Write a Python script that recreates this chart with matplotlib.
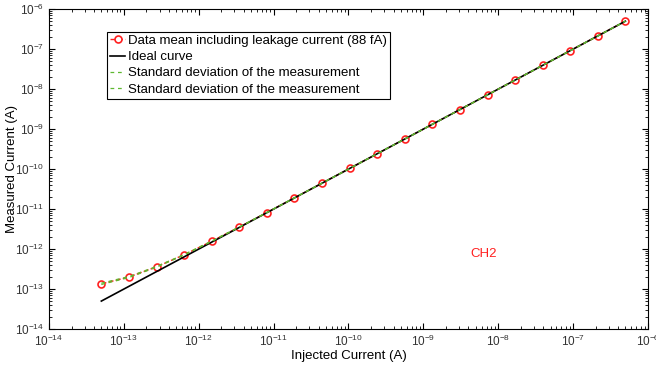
import matplotlib
matplotlib.use("Agg")
import matplotlib.pyplot as plt
from matplotlib.ticker import LogLocator, NullFormatter

plt.rcParams["font.family"] = ["Liberation Sans", "DejaVu Sans"]

# injected current (A)
injected = [5.0e-14, 1.17e-13, 2.73e-13, 6.37e-13, 1.49e-12, 3.48e-12, 8.13e-12,
            1.90e-11, 4.44e-11, 1.04e-10, 2.42e-10, 5.66e-10, 1.32e-9, 3.09e-9,
            7.20e-9, 1.68e-8, 3.93e-8, 9.19e-8, 2.15e-7, 5.0e-7]
# measured mean (A)
measured = [1.35e-13, 2.0e-13, 3.6e-13, 7.2e-13, 1.57e-12, 3.55e-12, 8.2e-12,
            1.91e-11, 4.45e-11, 1.04e-10, 2.42e-10, 5.66e-10, 1.32e-9, 3.09e-9,
            7.20e-9, 1.68e-8, 3.93e-8, 9.19e-8, 2.15e-7, 5.0e-7]
std_upper = [1.40e-13, 2.06e-13, 3.68e-13, 7.3e-13, 1.59e-12, 3.58e-12, 8.26e-12,
             1.92e-11, 4.47e-11, 1.045e-10, 2.43e-10, 5.68e-10, 1.325e-9, 3.10e-9,
             7.22e-9, 1.685e-8, 3.94e-8, 9.21e-8, 2.155e-7, 5.01e-7]
std_lower = [1.30e-13, 1.94e-13, 3.52e-13, 7.1e-13, 1.55e-12, 3.52e-12, 8.14e-12,
             1.90e-11, 4.43e-11, 1.035e-10, 2.41e-10, 5.64e-10, 1.315e-9, 3.08e-9,
             7.18e-9, 1.675e-8, 3.92e-8, 9.17e-8, 2.145e-7, 4.99e-7]

green = "#5fb830"

fig = plt.figure(figsize=(6.56, 3.66), dpi=100)
ax = fig.add_axes([0.0747, 0.101, 0.913, 0.874])

ax.plot(injected, measured, "--o", color="#ff2020", lw=1.0, ms=5,
        mfc="white", mec="#ff2020", mew=1.2,
        label="Data mean including leakage current (88 fA)")
ax.plot(injected, injected, "-", color="black", lw=1.2, label="Ideal curve")
ax.plot(injected, std_upper, "--", color=green, lw=0.9, dashes=(3, 3),
        label="Standard deviation of the measurement")
ax.plot(injected, std_lower, "--", color=green, lw=0.9, dashes=(3, 3),
        label="Standard deviation of the measurement")

ax.text(6.3e-9, 7.6e-13, "CH2", color="#ff2020", fontsize=9.5, ha="center", va="center")

ax.set_xscale("log")
ax.set_yscale("log")
ax.set_xlim(1e-14, 1e-6)
ax.set_ylim(1e-14, 1e-6)
ax.xaxis.set_major_locator(LogLocator(base=10, numticks=20))
ax.yaxis.set_major_locator(LogLocator(base=10, numticks=20))
ax.xaxis.set_minor_locator(LogLocator(base=10, subs=range(2, 10), numticks=100))
ax.yaxis.set_minor_locator(LogLocator(base=10, subs=range(2, 10), numticks=100))
ax.xaxis.set_minor_formatter(NullFormatter())
ax.yaxis.set_minor_formatter(NullFormatter())
ax.tick_params(which="both", direction="in", top=True, right=True,
               labelsize=8.5, labelcolor="#333333")
ax.tick_params(which="major", length=4)
ax.tick_params(which="minor", length=2)

ax.set_xlabel("Injected Current (A)", fontsize=9.5, labelpad=1)
ax.set_ylabel("Measured Current (A)", fontsize=9.5)
ax.yaxis.set_label_coords(-0.052, 0.5)

leg = ax.legend(loc="upper left", bbox_to_anchor=(0.097, 0.93), borderaxespad=0,
                fontsize=9.5, handlelength=1.1, handletextpad=0.2, labelspacing=0.3,
                borderpad=0.25, fancybox=False, framealpha=1)
leg.get_frame().set_edgecolor("black")
leg.get_frame().set_linewidth(0.8)

fig.savefig("out.png", dpi=100)
